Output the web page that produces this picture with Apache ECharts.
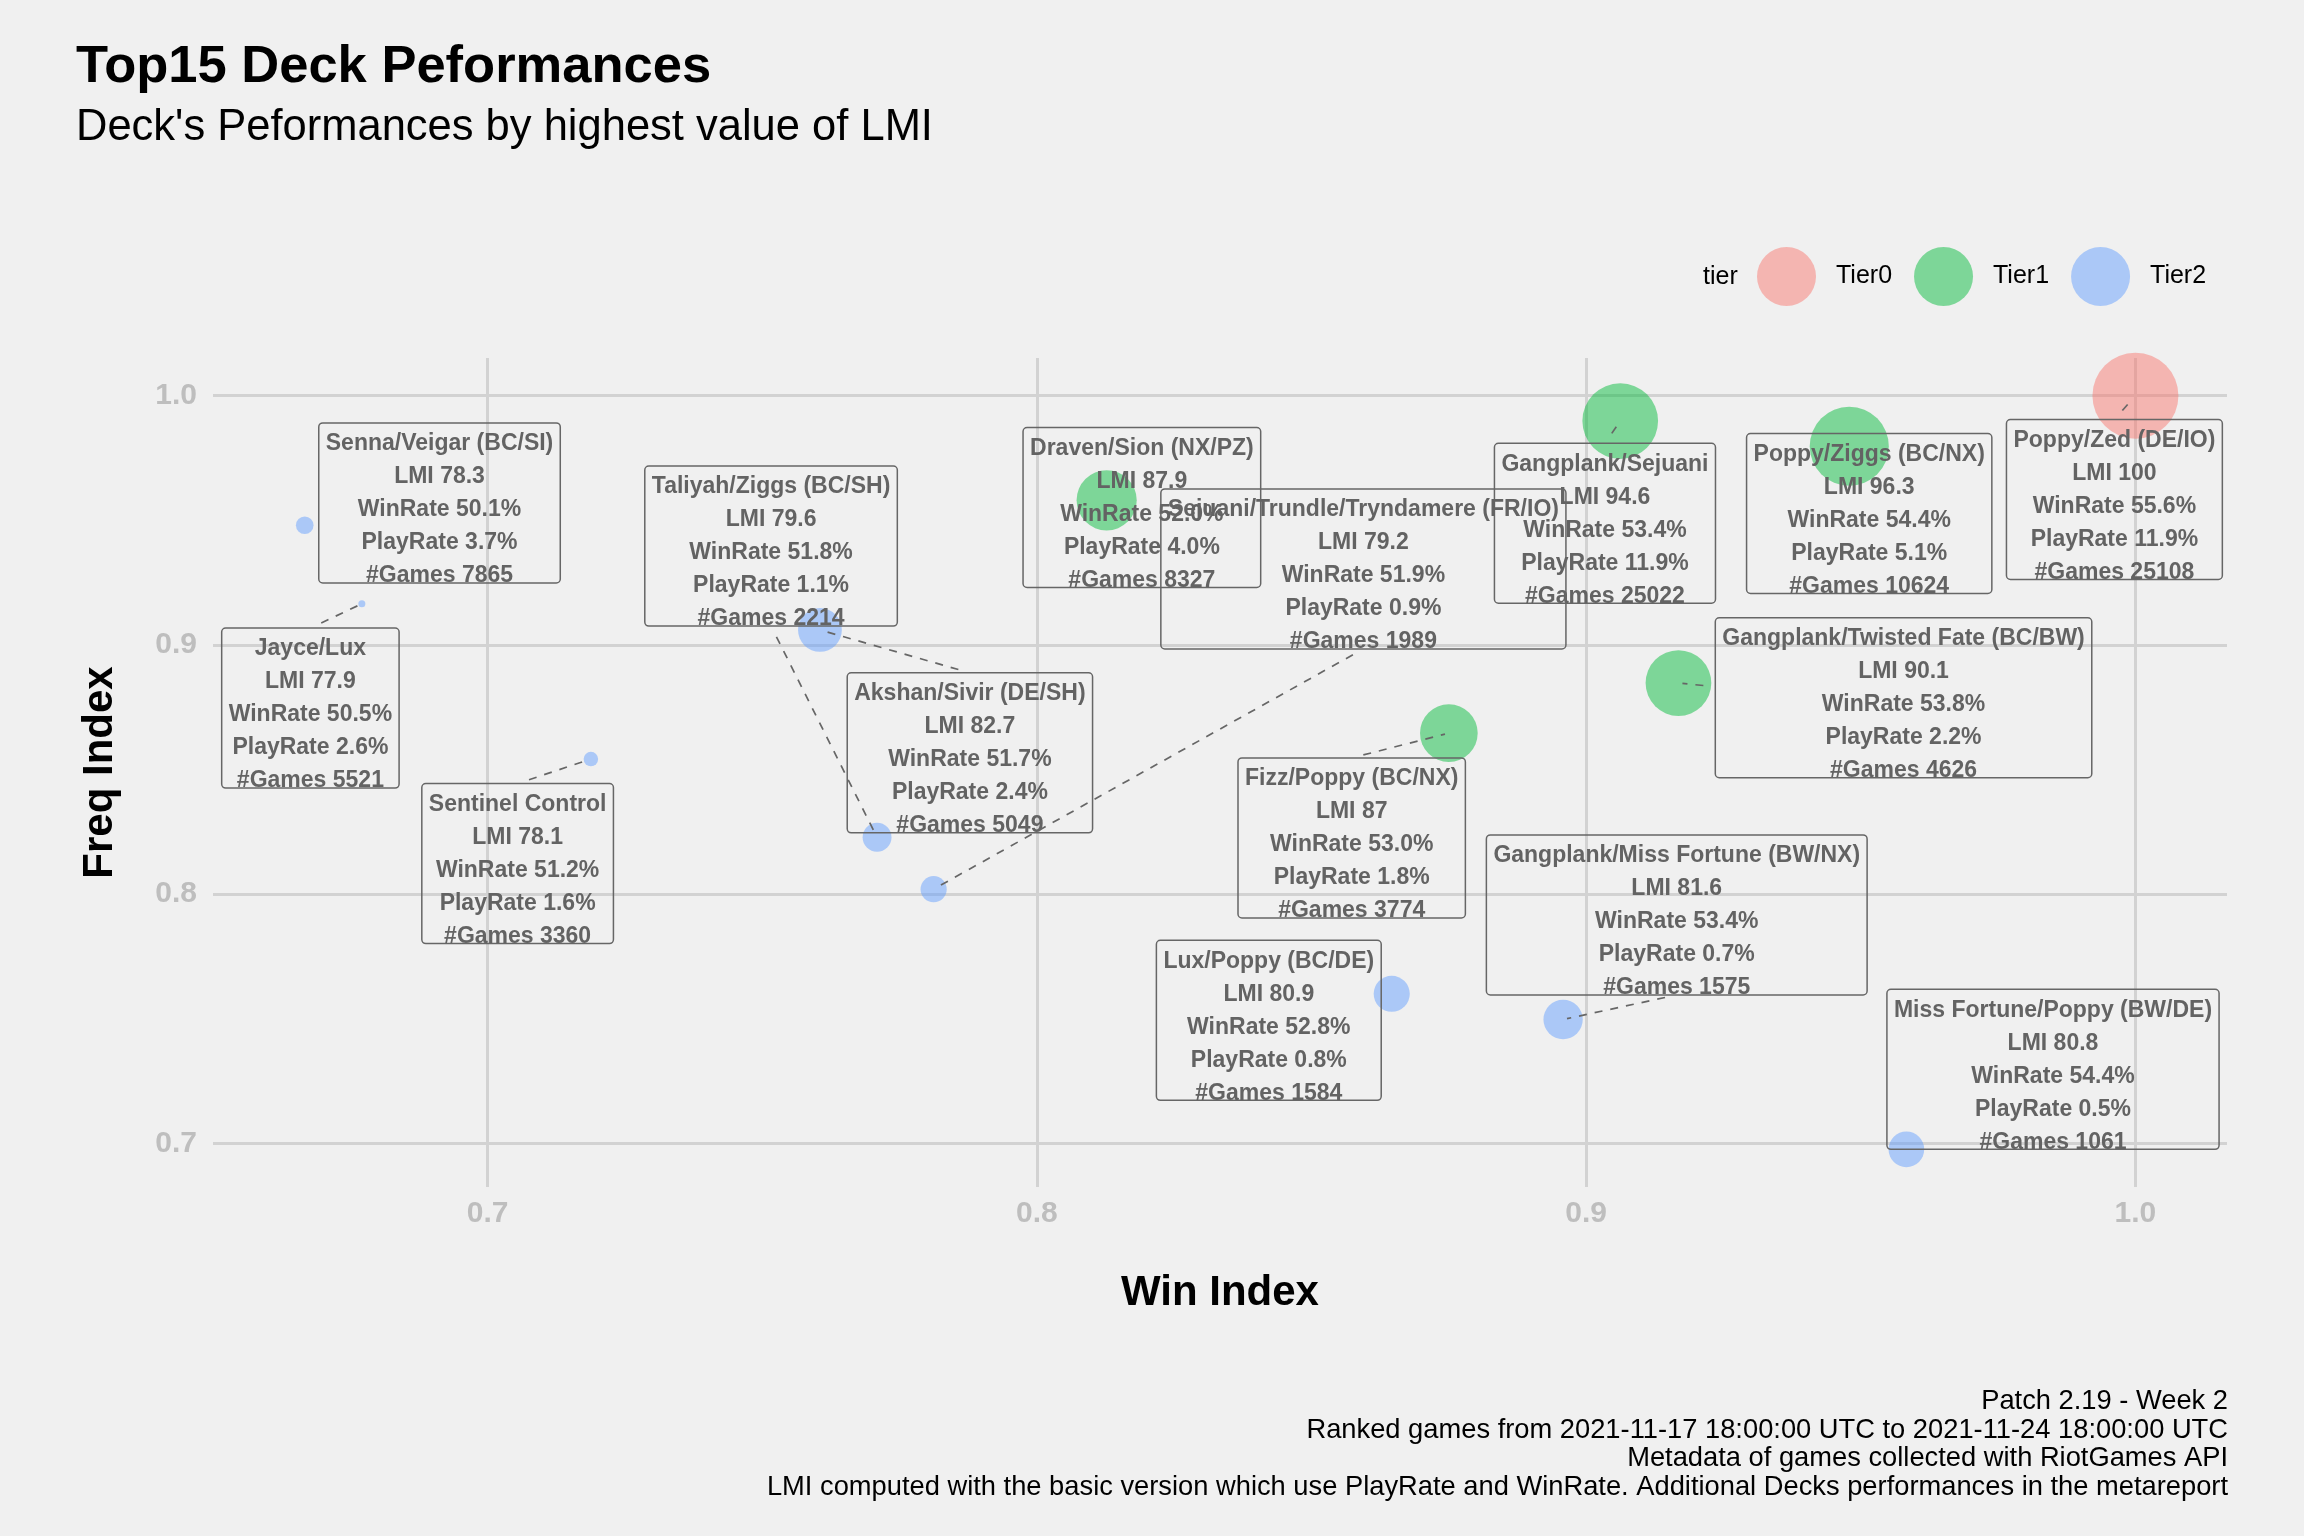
<!DOCTYPE html>
<html>
<head>
<meta charset="utf-8">
<script src="https://cdn.jsdelivr.net/npm/echarts@6/dist/echarts.min.js"></script>
<style>
  html, body { margin: 0; padding: 0; background: #F0F0F0; }
  #chart { width: 2304px; height: 1536px; }
</style>
</head>
<body>
<div id="chart"></div>
<script>
// ---------------- data ----------------
const decks = [
  "Poppy/Zed (DE/IO)", "Gangplank/Sejuani", "Poppy/Ziggs (BC/NX)",
  "Gangplank/Twisted Fate (BC/BW)", "Draven/Sion (NX/PZ)", "Fizz/Poppy (BC/NX)",
  "Akshan/Sivir (DE/SH)", "Gangplank/Miss Fortune (BW/NX)", "Lux/Poppy (BC/DE)",
  "Miss Fortune/Poppy (BW/DE)", "Taliyah/Ziggs (BC/SH)", "Sejuani/Trundle/Tryndamere (FR/IO)",
  "Senna/Veigar (BC/SI)", "Sentinel Control", "Jayce/Lux"
];
const tiers = ["Tier0", "Tier1", "Tier1", "Tier1", "Tier1", "Tier1",
  "Tier2", "Tier2", "Tier2", "Tier2", "Tier2", "Tier2", "Tier2", "Tier2", "Tier2"];
const lmi = [100, 94.6, 96.3, 90.1, 87.9, 87, 82.7, 81.6, 80.9, 80.8, 79.6, 79.2, 78.3, 78.1, 77.9];
const winRate = [55.6, 53.4, 54.4, 53.8, 52.0, 53.0, 51.7, 53.4, 52.8, 54.4, 51.8, 51.9, 50.1, 51.2, 50.5];
const playRate = [11.9, 11.9, 5.1, 2.2, 4.0, 1.8, 2.4, 0.7, 0.8, 0.5, 1.1, 0.9, 3.7, 1.6, 2.6];
const games = [25108, 25022, 10624, 4626, 8327, 3774, 5049, 1575, 1584, 1061, 2214, 1989, 7865, 3360, 5521];
const winIndex = [1.0, 0.9062, 0.9479, 0.9168, 0.8127, 0.875, 0.7605, 0.8958, 0.8646, 0.9583, 0.7709, 0.7812, 0.6667, 0.7188, 0.6771];
const freqIndex = [1.0, 0.9898, 0.9797, 0.8847, 0.958, 0.8646, 0.906, 0.7497, 0.760, 0.6976, 0.8228, 0.802, 0.948, 0.8542, 0.9165];
const tierNames = ["Tier0", "Tier1", "Tier2"];
const xTicks = [0.7, 0.8, 0.9, 1.0];
const yTicks = [0.7, 0.8, 0.9, 1.0];
const captionLines = [
  "Patch 2.19 - Week 2",
  "Ranked games from 2021-11-17 18:00:00 UTC to 2021-11-24 18:00:00 UTC",
  "Metadata of games collected with RiotGames API",
  "LMI computed with the basic version which use PlayRate and WinRate. Additional Decks performances in the metareport"
];

// ---------------- layout (label box centres, in axis units) ----------------
const labelAt = [
  [0.99617, 0.95834], [0.90342, 0.94881], [0.95153, 0.95273],
  [0.95778, 0.87879], [0.81911, 0.95513], [0.85731, 0.82256],
  [0.78780, 0.85669], [0.91649, 0.79164], [0.84222, 0.74934],
  [0.98499, 0.72969], [0.75160, 0.93967], [0.85944, 0.93050],
  [0.69124, 0.95698], [0.70546, 0.81226], [0.66773, 0.87465]
];

// ---------------- styles ----------------
const FONT = '"Liberation Sans", Arial, sans-serif';
const tierColors = {
  Tier0: 'rgba(248,118,109,0.6)',
  Tier1: 'rgba(0,186,56,0.6)',
  Tier2: 'rgba(97,156,255,0.6)'
};
const LABEL_FS = 23, LABEL_LH = 33, BOX_H = 160, PAD_X = 7;

const lmiMin = Math.min(...lmi), lmiMax = Math.max(...lmi);
function sizeOf(v) { return 7 + 79 * Math.sqrt((v - lmiMin) / (lmiMax - lmiMin)); }

const measureCtx = document.createElement('canvas').getContext('2d');
measureCtx.font = 'bold ' + LABEL_FS + 'px ' + FONT;
function textW(s) { return measureCtx.measureText(s).width; }

function labelLines(i) {
  return [
    decks[i],
    'LMI ' + String(lmi[i]),
    'WinRate ' + winRate[i].toFixed(1) + '%',
    'PlayRate ' + playRate[i].toFixed(1) + '%',
    '#Games ' + games[i]
  ];
}

// scatter series per tier
const scatterSeries = tierNames.map(t => ({
  name: t,
  type: 'scatter',
  z: 2,
  data: decks.map((d, i) => i).filter(i => tiers[i] === t)
            .map(i => ({ value: [winIndex[i], freqIndex[i], lmi[i]], name: decks[i] })),
  symbolSize: function (val) { return sizeOf(val[2]); },
  itemStyle: { color: tierColors[t], borderWidth: 0 },
  emphasis: { disabled: true },
  silent: true
}));

// label + segment custom series
const labelData = decks.map((d, i) => [labelAt[i][0], labelAt[i][1], winIndex[i], freqIndex[i], i]);

function renderLabel(params, api) {
  const i = api.value(4);
  const c = api.coord([api.value(0), api.value(1)]);
  const p = api.coord([api.value(2), api.value(3)]);
  const lines = labelLines(i);
  const w = Math.max(...lines.map(textW)) + 2 * PAD_X;
  const h = BOX_H;
  const L = c[0] - w / 2, R = c[0] + w / 2, T = c[1] - h / 2, B = c[1] + h / 2;
  const children = [];
  // segment (from label box toward the point)
  const inside = p[0] >= L && p[0] <= R && p[1] >= T && p[1] <= B;
  if (!inside) {
    let tx, ty;
    if (p[1] < T) { tx = c[0]; ty = T; }
    else if (p[1] > B) { tx = c[0]; ty = B; }
    else if (p[0] < L) { tx = L; ty = p[1] + 0.25 * (c[1] - p[1]); }
    else { tx = R; ty = p[1] + 0.25 * (c[1] - p[1]); }
    const dx = p[0] - tx, dy = p[1] - ty;
    const len = Math.sqrt(dx * dx + dy * dy);
    const gapBox = 12, gapPt = 4;
    if (len - gapBox - gapPt > 6) {
      const ux = dx / len, uy = dy / len;
      children.push({
        type: 'line',
        shape: { x1: tx + ux * gapBox, y1: ty + uy * gapBox, x2: p[0] - ux * gapPt, y2: p[1] - uy * gapPt },
        style: { stroke: '#666666', lineWidth: 1.7, lineDash: [8, 8], fill: null }
      });
    }
  }
  children.push({
    type: 'rect',
    shape: { x: L, y: T, width: w, height: h, r: 4 },
    style: { fill: 'rgba(0,0,0,0)', stroke: '#666666', lineWidth: 1.5 }
  });
  lines.forEach((s, k) => {
    children.push({
      type: 'text',
      style: {
        text: s, x: c[0], y: T + 21 + k * LABEL_LH,
        align: 'center', verticalAlign: 'middle',
        fontSize: LABEL_FS, fontWeight: 'bold', fontFamily: FONT, fill: '#636363'
      }
    });
  });
  return { type: 'group', children: children };
}

const chart = echarts.init(document.getElementById('chart'), null, { renderer: 'canvas' });

const option = {
  backgroundColor: '#F0F0F0',
  animation: false,
  textStyle: { fontFamily: FONT },
  grid: { left: 213, right: 77, top: 358, bottom: 349, containLabel: false },
  legend: {
    data: tierNames,
    left: 1757, top: 247,
    padding: 0,
    icon: 'circle',
    itemWidth: 59, itemHeight: 59, itemGap: 22,
    selectedMode: false,
    textStyle: { fontSize: 25, color: '#000000', fontFamily: FONT, padding: [0, 0, 0, 15] }
  },
  xAxis: {
    type: 'value',
    min: 0.65, max: 1.01667,
    name: 'Win Index', nameLocation: 'middle', nameGap: 85,
    nameTextStyle: { fontSize: 42, fontWeight: 'bold', color: '#000000', fontFamily: FONT },
    axisLine: { show: false },
    axisTick: { show: false, customValues: xTicks },
    axisLabel: {
      customValues: xTicks, margin: 12,
      formatter: v => Number(v).toFixed(1),
      fontSize: 30, fontWeight: 'bold', color: '#BEBEBE', fontFamily: FONT
    },
    splitLine: { show: true, lineStyle: { color: '#D2D2D2', width: 3 } }
  },
  yAxis: {
    type: 'value',
    min: 0.68248, max: 1.01512,
    name: 'Freq Index', nameLocation: 'middle', nameGap: 92,
    nameTextStyle: { fontSize: 42, fontWeight: 'bold', color: '#000000', fontFamily: FONT },
    axisLine: { show: false },
    axisTick: { show: false, customValues: yTicks },
    axisLabel: {
      customValues: yTicks, margin: 16,
      formatter: v => Number(v).toFixed(1),
      fontSize: 30, fontWeight: 'bold', color: '#BEBEBE', fontFamily: FONT
    },
    splitLine: { show: true, lineStyle: { color: '#D2D2D2', width: 3 } }
  },
  graphic: [
    { type: 'text', left: 76, top: 41, style: { text: 'Top15 Deck Peformances', fontSize: 52.5, fontWeight: 'bold', fill: '#000000', fontFamily: FONT } },
    { type: 'text', left: 76, top: 106, style: { text: "Deck's Peformances by highest value of LMI", fontSize: 43.5, fill: '#000000', fontFamily: FONT } },
    { type: 'text', left: 1703, top: 265, style: { text: 'tier', fontSize: 25, fill: '#000000', fontFamily: FONT } }
  ].concat(captionLines.map((s, k) => ({
    type: 'text', right: 2304 - 2228, top: 1388 + k * 28.6,
    style: { text: s, fontSize: 27.3, fill: '#000000', fontFamily: FONT }
  }))),
  series: scatterSeries.concat([{
    type: 'custom',
    name: 'labels',
    z: 5,
    clip: false,
    silent: true,
    renderItem: renderLabel,
    encode: { x: [0, 2], y: [1, 3] },
    data: labelData
  }])
};

chart.setOption(option);
</script>
</body>
</html>
